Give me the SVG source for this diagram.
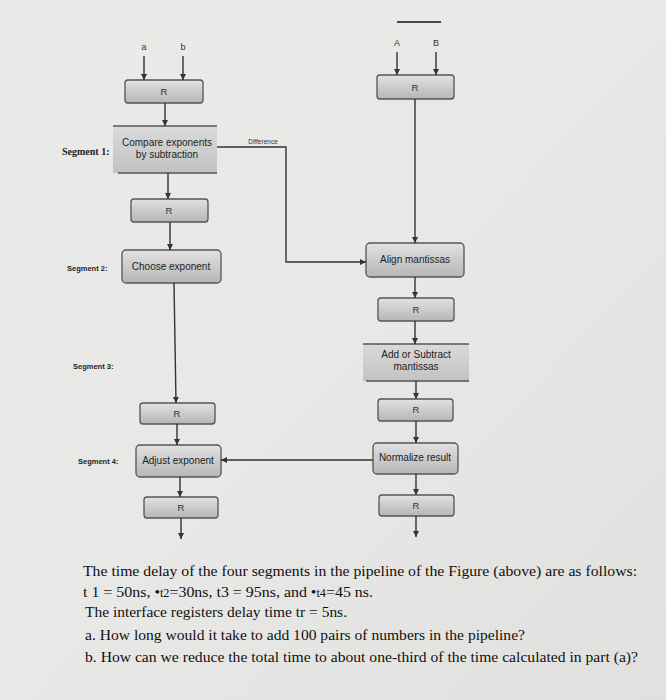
<svg xmlns="http://www.w3.org/2000/svg" width="666" height="700" viewBox="0 0 666 700">
<defs>
<linearGradient id="bg" x1="0" y1="0" x2="1" y2="1">
<stop offset="0" stop-color="#eaeae8"/>
<stop offset="0.5" stop-color="#e8e8e6"/>
<stop offset="1" stop-color="#e0e0de"/>
</linearGradient>
<linearGradient id="box" x1="0" y1="0" x2="0" y2="1">
<stop offset="0" stop-color="#e2e2e2"/>
<stop offset="1" stop-color="#b6b6b6"/>
</linearGradient>
<linearGradient id="box2" x1="0" y1="0" x2="0" y2="1">
<stop offset="0" stop-color="#dadada"/>
<stop offset="1" stop-color="#c2c2c2"/>
</linearGradient>
<marker id="ah" markerUnits="userSpaceOnUse" markerWidth="7" markerHeight="7" refX="6" refY="3" orient="auto">
<path d="M0,0 L6,3 L0,6 z" fill="#333"/>
</marker>
</defs>
<style>
.bx{fill:url(#box);stroke:#555;stroke-width:1.3}
.bx2{fill:url(#box2);stroke:none}
.edge{stroke:#555;stroke-width:1.4}
.t{font-family:"Liberation Sans",Arial,sans-serif;font-size:10px;fill:#222;text-anchor:middle}
.r{font-family:"Liberation Sans",Arial,sans-serif;font-size:9.5px;fill:#333;text-anchor:middle}
.seg{font-family:"Liberation Sans",Arial,sans-serif;font-size:7.5px;font-weight:bold;fill:#222}
.in{font-family:"Liberation Sans",Arial,sans-serif;font-size:9px;fill:#333;text-anchor:middle}
.ca{stroke:#333;stroke-width:1.4;fill:none;marker-end:url(#ah)}
.q{font-family:"Liberation Serif","Times New Roman",serif;font-size:15px;fill:#111}
</style>
<rect width="666" height="700" fill="url(#bg)"/>

<g id="inputs-left">
<text class="in" x="144" y="50">a</text>
<text class="in" x="183" y="50">b</text>
</g>
<g id="inputs-right">
<line x1="397" y1="22" x2="441" y2="22" stroke="#111" stroke-width="1.6"/>
<text class="in" x="397" y="46">A</text>
<text class="in" x="436" y="46">B</text>
</g>

<g id="R1"><rect class="bx" x="125" y="80" width="78" height="23" rx="3"/><text class="r" x="164" y="95">R</text></g>
<g id="compare">
<rect class="bx2" x="113" y="126" width="104" height="47"/>
<line x1="113" y1="126" x2="217" y2="126" class="edge"/>
<line x1="118" y1="173" x2="217" y2="173" class="edge"/>
<text class="t" x="167" y="146">Compare exponents</text>
<text class="t" x="167" y="158">by subtraction</text>
</g>
<g id="seg1"><text x="62" y="155" font-family="'Liberation Serif','Times New Roman',serif" font-size="10" font-weight="bold" fill="#222">Segment 1:</text></g>
<g id="R2"><rect class="bx" x="131" y="199" width="77" height="23" rx="3"/><text class="r" x="169" y="214">R</text></g>
<g id="choose"><rect class="bx" x="122" y="250" width="99" height="33" rx="4"/><text class="t" x="171" y="270">Choose exponent</text></g>
<g id="seg2"><text class="seg" x="67" y="271">Segment 2:</text></g>
<g id="seg3"><text class="seg" x="73" y="369">Segment 3:</text></g>
<g id="R4"><rect class="bx" x="140" y="403" width="75" height="21" rx="3"/><text class="r" x="177" y="417">R</text></g>
<g id="adjust"><rect class="bx" x="136" y="445" width="85" height="32" rx="4"/><text class="t" x="178" y="464">Adjust exponent</text></g>
<g id="seg4"><text class="seg" x="78" y="464">Segment 4:</text></g>
<g id="R5"><rect class="bx" x="144" y="497" width="74" height="21" rx="3"/><text class="r" x="181" y="511">R</text></g>

<g id="Rtop"><rect class="bx" x="377" y="75" width="77" height="24" rx="3"/><text class="r" x="415" y="91">R</text></g>
<g id="align"><rect class="bx" x="366" y="243" width="98" height="34" rx="4"/><text class="t" x="415" y="263">Align mantissas</text></g>
<g id="R3"><rect class="bx" x="378" y="298" width="76" height="23" rx="3"/><text class="r" x="416" y="313">R</text></g>
<g id="addsub">
<rect class="bx2" x="363" y="344" width="106" height="37"/>
<line x1="363" y1="344" x2="469" y2="344" class="edge"/>
<line x1="366" y1="381" x2="469" y2="381" class="edge"/>
<text class="t" x="416" y="358" font-size="9.5">Add or Subtract</text>
<text class="t" x="416" y="370" font-size="9.5">mantissas</text>
</g>
<g id="R6"><rect class="bx" x="378" y="399" width="75" height="22" rx="3"/><text class="r" x="416" y="413">R</text></g>
<g id="normalize"><rect class="bx" x="373" y="443" width="85" height="31" rx="4"/><text class="t" x="415" y="461" font-size="9.5">Normalize result</text></g>
<g id="R7"><rect class="bx" x="379" y="495" width="75" height="21" rx="3"/><text class="r" x="416" y="509">R</text></g>

<g id="connectors">
<line class="ca" x1="144" y1="56" x2="144" y2="80"/>
<line class="ca" x1="183" y1="56" x2="183" y2="80"/>
<line class="ca" x1="165" y1="103" x2="165" y2="126"/>
<line class="ca" x1="168" y1="173" x2="168" y2="199"/>
<line class="ca" x1="170" y1="222" x2="170" y2="250"/>
<line class="ca" x1="174" y1="283" x2="176" y2="403"/>
<line class="ca" x1="177" y1="424" x2="177" y2="445"/>
<line class="ca" x1="180" y1="477" x2="180" y2="497"/>
<line class="ca" x1="181" y1="518" x2="181" y2="539"/>
<line class="ca" x1="397" y1="52" x2="397" y2="75"/>
<line class="ca" x1="436" y1="52" x2="436" y2="75"/>
<line class="ca" x1="415" y1="99" x2="415" y2="243"/>
<polyline class="ca" points="217,147 286,147 286,262 366,262"/>
<text x="263" y="144" font-family="'Liberation Sans',Arial,sans-serif" font-size="6.5" fill="#333" text-anchor="middle">Difference</text>
<line class="ca" x1="415" y1="277" x2="415" y2="298"/>
<line class="ca" x1="415" y1="321" x2="415" y2="344"/>
<line class="ca" x1="416" y1="381" x2="416" y2="399"/>
<line class="ca" x1="416" y1="421" x2="416" y2="443"/>
<line class="ca" x1="373" y1="460" x2="221" y2="460"/>
<line class="ca" x1="416" y1="474" x2="416" y2="495"/>
<line class="ca" x1="416" y1="516" x2="416" y2="537"/>
</g>

<g id="question">
<text class="q" x="83" y="576" textLength="554" lengthAdjust="spacingAndGlyphs">The time delay of the four segments in the pipeline of the Figure (above) are as follows:</text>
<text class="q" x="83" y="597" textLength="290" lengthAdjust="spacingAndGlyphs">t 1 = 50ns, •<tspan font-size="11.5">t2</tspan>=30ns, t3 = 95ns, and •<tspan font-size="11.5">t4</tspan>=45 ns.</text>
<text class="q" x="85" y="617" textLength="262" lengthAdjust="spacingAndGlyphs">The interface registers delay time tr = 5ns.</text>
<text class="q" x="85" y="640" textLength="440" lengthAdjust="spacingAndGlyphs">a. How long would it take to add 100 pairs of numbers in the pipeline?</text>
<text class="q" x="85" y="662" textLength="553" lengthAdjust="spacingAndGlyphs">b. How can we reduce the total time to about one-third of the time calculated in part (a)?</text>
</g>
</svg>
